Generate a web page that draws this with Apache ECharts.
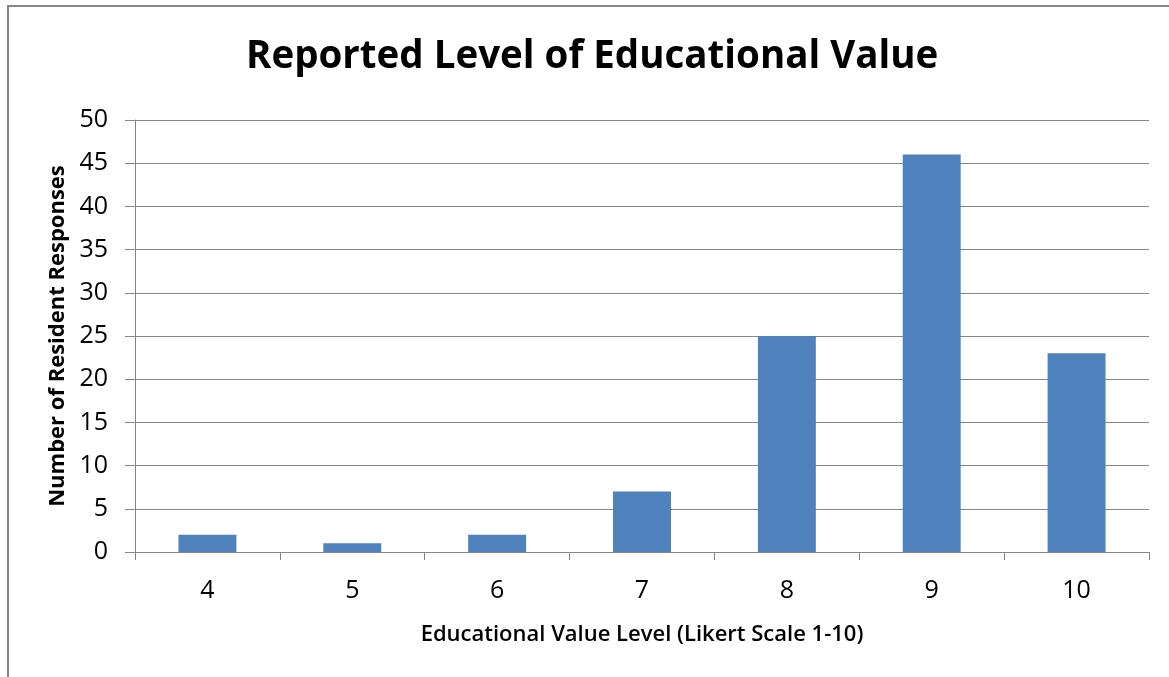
<!DOCTYPE html>
<html>
<head>
<meta charset="utf-8">
<script src="https://cdn.jsdelivr.net/npm/echarts@6/dist/echarts.min.js"></script>
<style>
html,body{margin:0;padding:0;background:#fff;}
#chart{width:1169px;height:677px;}
</style>
</head>
<body>
<div id="chart"></div>
<script>
const categories = ['4', '5', '6', '7', '8', '9', '10'];
const responses = [2, 1, 2, 7, 25, 46, 23];
const yTicks = { min: 0, max: 50, interval: 5 };
const titleText = 'Reported Level of Educational Value';
const xTitle = 'Educational Value Level (Likert Scale 1-10)';
const yTitle = 'Number of Resident Responses';

const chart = echarts.init(document.getElementById('chart'), null, { renderer: 'canvas' });
const font = 'Open Sans';
chart.setOption({
  animation: false,
  backgroundColor: '#fff',
  graphic: [{
    type: 'rect',
    shape: { x: 8, y: 6, width: 1200, height: 720 },
    style: { fill: 'none', stroke: '#868686', lineWidth: 2 },
    silent: true
  }],
  title: {
    text: titleText,
    left: 241,
    top: 33,
    textStyle: { fontFamily: font, fontWeight: 'bold', fontSize: 38.5, color: '#000' }
  },
  grid: { left: 135, right: 20, top: 120, bottom: 125, containLabel: false },
  xAxis: {
    type: 'category',
    data: categories,
    name: xTitle,
    nameLocation: 'middle',
    nameGap: 72,
    nameTextStyle: { fontFamily: font, fontWeight: 600, fontSize: 22, color: '#000' },
    axisLine: { lineStyle: { color: '#868686', width: 1 } },
    axisTick: { show: true, length: 8, alignWithLabel: false, lineStyle: { color: '#868686' } },
    axisLabel: { fontFamily: font, fontSize: 25, color: '#000', margin: 26 },
    splitLine: { show: false }
  },
  yAxis: {
    type: 'value',
    min: yTicks.min,
    max: yTicks.max,
    interval: yTicks.interval,
    name: yTitle,
    nameLocation: 'middle',
    nameGap: 66,
    nameRotate: 90,
    nameTextStyle: { fontFamily: font, fontWeight: 'bold', fontSize: 22, color: '#000' },
    axisLine: { show: true, lineStyle: { color: '#868686', width: 1 } },
    axisTick: { show: true, length: 10, lineStyle: { color: '#868686' } },
    axisLabel: { fontFamily: font, fontSize: 25, color: '#000', margin: 27 },
    splitLine: { show: true, lineStyle: { color: '#868686', width: 1 } }
  },
  series: [{
    type: 'bar',
    data: responses,
    barCategoryGap: '60%',
    itemStyle: { color: '#4F81BD' }
  }]
});
</script>
</body>
</html>
